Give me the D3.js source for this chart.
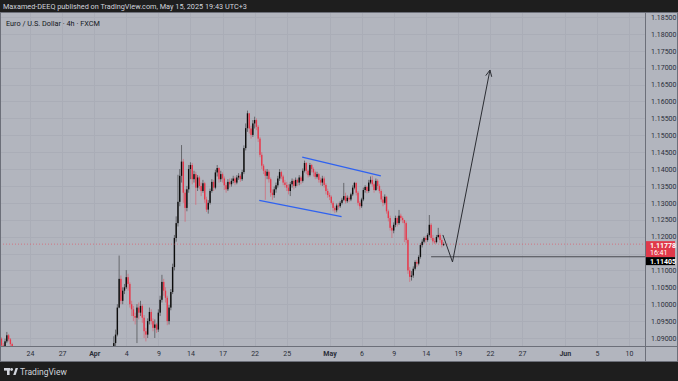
<!DOCTYPE html>
<html><head><meta charset="utf-8">
<script src="https://cdn.jsdelivr.net/npm/d3@7"></script>
<style>html,body{margin:0;padding:0;background:#1e1e1e;overflow:hidden}</style>
</head><body>
<svg id="c" width="678" height="381"></svg>
<script>
// ---------- DATA ----------
// trading-day index: Mar 24 = 0 (weekends skipped); 6 bars (4h) per day
const firstDay = -3;          // Mar 19
const startOpen = 1.0935;
const closes = [
// Mar 19
1.0915,1.0898,1.0878,1.0872,1.0890,1.0908,
// Mar 20
1.0896,1.0882,1.0850,1.0838,1.0842,1.0850,
// Mar 21
1.0840,1.0835,1.0822,1.0810,1.0818,1.0815,
// Mar 24
1.0825,1.0835,1.0848,1.0830,1.0810,1.0800,
// Mar 25
1.0795,1.0790,1.0805,1.0815,1.0800,1.0790,
// Mar 26
1.0785,1.0780,1.0770,1.0760,1.0750,1.0755,
// Mar 27
1.0750,1.0740,1.0760,1.0785,1.0795,1.0800,
// Mar 28
1.0810,1.0815,1.0800,1.0820,1.0830,1.0825,
// Mar 31
1.0815,1.0808,1.0820,1.0830,1.0815,1.0815,
// Apr 1
1.0810,1.0800,1.0790,1.0795,1.0790,1.0790,
// Apr 2
1.0795,1.0805,1.0820,1.0830,1.0860,1.0885,
// Apr 3
1.0910,1.0990,1.1075,1.1010,1.1040,1.1050,
// Apr 4
1.1080,1.1060,1.1000,1.0985,1.0965,1.0960,
// Apr 7
1.0990,1.0975,1.0995,1.0960,1.0920,1.0910,
// Apr 8
1.0950,1.0977,1.0950,1.0930,1.0940,1.0925,
// Apr 9
1.0975,1.1013,1.1066,1.1040,1.1019,1.0950,
// Apr 10
1.0990,1.1036,1.1110,1.1196,1.1240,1.1303,
// Apr 11
1.1380,1.1422,1.1330,1.1285,1.1340,1.1400,
// Apr 14
1.1412,1.1370,1.1385,1.1345,1.1375,1.1350,
// Apr 15
1.1335,1.1358,1.1310,1.1280,1.1300,1.1335,
// Apr 16
1.1362,1.1345,1.1390,1.1403,1.1370,1.1385,
// Apr 17
1.1372,1.1352,1.1340,1.1362,1.1355,1.1365,
// Apr 18
1.1372,1.1360,1.1375,1.1380,1.1370,1.1391,
// Apr 21
1.1462,1.1521,1.1565,1.1520,1.1501,1.1535,
// Apr 22
1.1545,1.1525,1.1490,1.1442,1.1410,1.1395,
// Apr 23
1.1380,1.1392,1.1370,1.1330,1.1323,1.1340,
// Apr 24
1.1352,1.1372,1.1391,1.1378,1.1360,1.1353,
// Apr 25
1.1345,1.1335,1.1355,1.1365,1.1350,1.1368,
// Apr 28
1.1360,1.1375,1.1365,1.1395,1.1418,1.1395,
// Apr 29
1.1382,1.1412,1.1400,1.1390,1.1377,1.1385,
// Apr 30
1.1368,1.1360,1.1372,1.1353,1.1335,1.1323,
// May 1
1.1318,1.1300,1.1285,1.1278,1.1292,1.1290,
// May 2
1.1300,1.1309,1.1320,1.1305,1.1315,1.1310,
// May 5
1.1325,1.1345,1.1359,1.1330,1.1300,1.1290,
// May 6
1.1310,1.1338,1.1347,1.1335,1.1360,1.1368,
// May 7
1.1355,1.1338,1.1365,1.1350,1.1335,1.1310,
// May 8
1.1300,1.1318,1.1275,1.1255,1.1226,1.1218,
// May 9
1.1235,1.1255,1.1240,1.1262,1.1255,1.1249,
// May 12
1.1240,1.1190,1.1100,1.1081,1.1085,1.1105,
// May 13
1.1125,1.1120,1.1140,1.1175,1.1185,1.1196,
// May 14
1.1190,1.1205,1.1235,1.1196,1.1186,1.1184,
// May 15
1.1199,1.1205,1.1190,1.1176,1.11778
];
const highs = [
1.0945,1.0920,1.0902,1.0885,1.0898,1.0918,
1.0912,1.0900,1.0886,1.0855,1.0850,1.0856,
1.0858,1.0848,1.0840,1.0828,1.0825,1.0824,
1.0830,1.0840,1.0858,1.0850,1.0835,1.0815,
1.0805,1.0800,1.0810,1.0822,1.0818,1.0805,
1.0795,1.0790,1.0785,1.0775,1.0765,1.0760,
1.0760,1.0755,1.0765,1.0790,1.0802,1.0805,
1.0815,1.0822,1.0818,1.0825,1.0840,1.0835,
1.0830,1.0820,1.0825,1.0835,1.0832,1.0820,
1.0820,1.0812,1.0805,1.0800,1.0800,1.0795,
1.0800,1.0810,1.0825,1.0840,1.0868,1.0905,
1.0925,1.1000,1.1144,1.1085,1.1050,1.1060,
1.1101,1.1090,1.1065,1.1010,1.0995,1.0975,
1.1000,1.1005,1.1010,1.1000,1.0968,1.0930,
1.0958,1.0990,1.0985,1.0958,1.0955,1.0945,
1.0985,1.1025,1.1087,1.1075,1.1050,1.1025,
1.0998,1.1045,1.1120,1.1205,1.1260,1.1383,
1.1400,1.1471,1.1430,1.1340,1.1350,1.1412,
1.1420,1.1418,1.1395,1.1392,1.1382,1.1380,
1.1360,1.1368,1.1362,1.1318,1.1308,1.1342,
1.1370,1.1368,1.1398,1.1412,1.1405,1.1395,
1.1390,1.1378,1.1360,1.1370,1.1372,1.1372,
1.1380,1.1378,1.1382,1.1388,1.1385,1.1398,
1.1470,1.1535,1.1573,1.1560,1.1528,1.1545,
1.1555,1.1550,1.1530,1.1495,1.1450,1.1415,
1.1400,1.1400,1.1398,1.1375,1.1340,1.1348,
1.1360,1.1380,1.1400,1.1395,1.1383,1.1368,
1.1362,1.1355,1.1362,1.1372,1.1370,1.1375,
1.1372,1.1382,1.1380,1.1402,1.1425,1.1420,
1.1398,1.1418,1.1415,1.1405,1.1395,1.1392,
1.1388,1.1375,1.1380,1.1378,1.1358,1.1342,
1.1330,1.1322,1.1305,1.1290,1.1298,1.1300,
1.1305,1.1315,1.1359,1.1330,1.1322,1.1320,
1.1330,1.1352,1.1362,1.1360,1.1335,1.1305,
1.1315,1.1345,1.1352,1.1350,1.1368,1.1378,
1.1380,1.1360,1.1372,1.1370,1.1355,1.1340,
1.1320,1.1325,1.1320,1.1280,1.1262,1.1232,
1.1242,1.1262,1.1260,1.1279,1.1268,1.1260,
1.1250,1.1245,1.1195,1.1110,1.1098,1.1112,
1.1130,1.1132,1.1145,1.1180,1.1192,1.1200,
1.1202,1.1210,1.1264,1.1240,1.1205,1.1195,
1.1205,1.1226,1.1210,1.1195,1.1183
];
const lows = [
1.0905,1.0890,1.0870,1.0862,1.0866,1.0885,
1.0890,1.0875,1.0840,1.0825,1.0830,1.0838,
1.0835,1.0825,1.0815,1.0800,1.0805,1.0808,
1.0810,1.0820,1.0830,1.0825,1.0805,1.0795,
1.0788,1.0782,1.0785,1.0800,1.0795,1.0785,
1.0778,1.0772,1.0765,1.0752,1.0745,1.0745,
1.0742,1.0732,1.0738,1.0755,1.0780,1.0790,
1.0795,1.0805,1.0795,1.0798,1.0815,1.0818,
1.0810,1.0800,1.0805,1.0815,1.0810,1.0810,
1.0805,1.0795,1.0785,1.0782,1.0785,1.0785,
1.0785,1.0790,1.0800,1.0815,1.0825,1.0850,
1.0875,1.0905,1.0988,1.1000,1.1000,1.1030,
1.1045,1.1040,1.0990,1.0965,1.0950,1.0940,
1.0885,1.0955,1.0965,1.0945,1.0900,1.0890,
1.0900,1.0940,1.0940,1.0920,1.0900,1.0915,
1.0918,1.0965,1.1005,1.1025,1.1005,1.0938,
1.0940,1.0982,1.1030,1.1100,1.1185,1.1230,
1.1290,1.1360,1.1300,1.1244,1.1275,1.1330,
1.1370,1.1355,1.1360,1.1294,1.1335,1.1340,
1.1320,1.1330,1.1300,1.1273,1.1268,1.1295,
1.1330,1.1335,1.1340,1.1378,1.1360,1.1362,
1.1360,1.1338,1.1330,1.1335,1.1345,1.1348,
1.1358,1.1352,1.1355,1.1368,1.1362,1.1365,
1.1385,1.1455,1.1510,1.1505,1.1490,1.1495,
1.1520,1.1515,1.1480,1.1435,1.1400,1.1385,
1.1309,1.1370,1.1360,1.1318,1.1309,1.1315,
1.1330,1.1345,1.1365,1.1370,1.1352,1.1345,
1.1335,1.1325,1.1320,1.1345,1.1340,1.1345,
1.1350,1.1352,1.1355,1.1360,1.1390,1.1385,
1.1375,1.1378,1.1390,1.1378,1.1370,1.1372,
1.1360,1.1352,1.1350,1.1345,1.1325,1.1315,
1.1308,1.1295,1.1275,1.1270,1.1272,1.1280,
1.1285,1.1295,1.1305,1.1298,1.1300,1.1302,
1.1305,1.1320,1.1340,1.1322,1.1292,1.1280,
1.1285,1.1305,1.1330,1.1328,1.1330,1.1355,
1.1348,1.1330,1.1335,1.1340,1.1328,1.1302,
1.1290,1.1295,1.1268,1.1245,1.1218,1.1196,
1.1210,1.1228,1.1230,1.1235,1.1245,1.1240,
1.1184,1.1180,1.1090,1.1066,1.1070,1.1078,
1.1100,1.1110,1.1115,1.1135,1.1168,1.1180,
1.1182,1.1185,1.1200,1.1190,1.1180,1.1178,
1.1180,1.1195,1.1182,1.1168,1.1172
];
const priceTicks = [1.090,1.095,1.100,1.105,1.110,1.115,1.120,1.125,1.130,1.135,1.140,1.145,1.150,1.155,1.160,1.165,1.170,1.175,1.180,1.185];
const tickDays   = [0,3,6,9,12,15,18,21,24,28,31,34,37,40,43,46,50,53,56];
const tickLabels = ["24","27","Apr","4","9","14","17","22","25","May","6","9","14","19","22","27","Jun","5","10"];
const monthLabels = ["Apr","May","Jun"];
const channelUpper = [[25.45,1.1435],[32.8,1.1380]];
const channelLower = [[21.43,1.1307],[29.13,1.1259]];
const projection   = [[38.6,1.1205],[39.5,1.1125],[43.0,1.1693]];
const levelLine    = {fromDay:37.5, price:1.11405};
const lastPrice = 1.11778, countdown = "16:41";
const headerText = "Maxamed-DEEQ published on TradingView.com, May 15, 2025 19:43 UTC+3";
const legendText = "Euro / U.S. Dollar · 4h · FXCM";

// ---------- CHART ----------
const W=678,H=381;
const P={l:0,r:645,t:12,b:346};
const FONT="Roboto, 'Liberation Sans', sans-serif";
const x=d3.scaleLinear().domain([0,56]).range([30,629]);
const y=d3.scaleLinear().domain([1.09,1.185]).range([338,17]);
const svg=d3.select("#c");
svg.append("rect").attr("width",W).attr("height",H).attr("fill","#1e1e1e");
svg.append("rect").attr("x",0).attr("y",12).attr("width",W).attr("height",350).attr("fill","#b2b5be");
svg.append("defs").append("clipPath").attr("id","clip").append("rect")
  .attr("x",P.l).attr("y",P.t).attr("width",P.r-P.l).attr("height",P.b-P.t);

// grid
const grid=svg.append("g").attr("clip-path","url(#clip)");
grid.selectAll("line.h").data(priceTicks).join("line")
  .attr("x1",P.l).attr("x2",P.r).attr("y1",d=>Math.round(y(d))+0.5).attr("y2",d=>Math.round(y(d))+0.5)
  .attr("stroke","#aaadb7").attr("stroke-width",1);
grid.selectAll("line.v").data(tickDays).join("line")
  .attr("y1",P.t).attr("y2",P.b).attr("x1",d=>Math.round(x(d))+0.5).attr("x2",d=>Math.round(x(d))+0.5)
  .attr("stroke","#aaadb7").attr("stroke-width",1);

// candles
const bars=closes.map((c,i)=>{
  const o=i?closes[i-1]:startOpen;
  const day=firstDay+Math.floor(i/6)+(i%6)/6;
  return {day,o,c,h:Math.max(highs[i],o,c),l:Math.min(lows[i],o,c)};
});
const cg=svg.append("g").attr("clip-path","url(#clip)");
const UP="#0c0c0c", DN="#e8374a";
cg.selectAll("line.w").data(bars).join("line")
  .attr("x1",d=>x(d.day)).attr("x2",d=>x(d.day))
  .attr("y1",d=>y(d.h)).attr("y2",d=>y(d.l))
  .attr("stroke",d=>d.c>=d.o?UP:DN).attr("stroke-opacity",0.45).attr("stroke-width",1);
cg.selectAll("rect.b").data(bars).join("rect")
  .attr("x",d=>x(d.day)-0.7).attr("width",1.4)
  .attr("y",d=>y(Math.max(d.o,d.c)))
  .attr("height",d=>Math.max(1,Math.abs(y(d.o)-y(d.c))))
  .attr("fill",d=>d.c>=d.o?UP:DN);

// current price dotted line
cg.append("line").attr("x1",P.l).attr("x2",P.r).attr("y1",y(lastPrice)).attr("y2",y(lastPrice))
  .attr("stroke","#f23645").attr("stroke-opacity",0.5).attr("stroke-dasharray","1 2");

// drawings
const dl=d3.line().x(d=>x(d[0])).y(d=>y(d[1]));
cg.append("path").attr("d",dl(channelUpper)).attr("fill","none").attr("stroke","#2f62f0").attr("stroke-width",1.3);
cg.append("path").attr("d",dl(channelLower)).attr("fill","none").attr("stroke","#2f62f0").attr("stroke-width",1.3);
cg.append("line").attr("x1",x(levelLine.fromDay)).attr("x2",P.r)
  .attr("y1",y(levelLine.price)).attr("y2",y(levelLine.price))
  .attr("stroke","#4a4c52").attr("stroke-width",1.2);
cg.append("path").attr("d",dl(projection)).attr("fill","none").attr("stroke","#2b2d33").attr("stroke-width",1);
// arrow head
{
  const a=projection[projection.length-2], b=projection[projection.length-1];
  const x1=x(a[0]),y1=y(a[1]),x2=x(b[0]),y2=y(b[1]);
  const ang=Math.atan2(y2-y1,x2-x1), L=7, s=0.45;
  const p1=[x2-L*Math.cos(ang-s),y2-L*Math.sin(ang-s)], p2=[x2-L*Math.cos(ang+s),y2-L*Math.sin(ang+s)];
  cg.append("path").attr("d",`M${p1}L${x2},${y2}L${p2}`).attr("fill","none").attr("stroke","#2b2d33").attr("stroke-width",1);
}

// price axis (labels hidden under the price-label boxes are omitted, as in the reference)
const ly=y(lastPrice);
const visibleTicks=priceTicks.filter(p=>{const py=y(p);return py<ly-5||py>ly+24;});
const ya=svg.append("g").attr("transform",`translate(${P.r},0)`)
  .call(d3.axisRight(y).tickValues(visibleTicks).tickFormat(d3.format(".5f")).tickSize(0).tickPadding(6));
ya.select(".domain").remove();
ya.selectAll("text").attr("font-family",FONT).attr("font-size",7).attr("fill","#2a2e39");

// time axis
const xa=svg.append("g").attr("transform",`translate(0,${P.b})`)
  .call(d3.axisBottom(x).tickValues(tickDays).tickFormat((d,i)=>tickLabels[i]).tickSize(0).tickPadding(5));
xa.select(".domain").remove();
xa.selectAll("text").attr("font-family",FONT).attr("font-size",7).attr("fill","#2a2e39")
  .attr("font-weight",(d,i)=>monthLabels.includes(tickLabels[i])?"bold":"normal");

// borders
const bc="#6c6f79";
svg.append("line").attr("x1",P.r+0.5).attr("x2",P.r+0.5).attr("y1",12).attr("y2",362).attr("stroke",bc);
svg.append("line").attr("x1",0).attr("x2",W).attr("y1",P.b+0.5).attr("y2",P.b+0.5).attr("stroke",bc);
svg.append("rect").attr("x",0.5).attr("y",12.5).attr("width",W-1).attr("height",349).attr("fill","none").attr("stroke",bc);

// price labels
svg.append("rect").attr("x",P.r+1).attr("y",ly-3).attr("width",29).attr("height",16).attr("fill","#e0394a");
svg.append("text").attr("x",P.r+5).attr("y",ly+3.5).text(d3.format(".5f")(lastPrice))
  .attr("font-family",FONT).attr("font-size",7).attr("font-weight","bold").attr("fill","#fff");
svg.append("text").attr("x",P.r+5).attr("y",ly+10.5).text(countdown)
  .attr("font-family",FONT).attr("font-size",7).attr("fill","#fff");
svg.append("rect").attr("x",P.r+1).attr("y",ly+13).attr("width",29).attr("height",8).attr("fill","#000");
svg.append("text").attr("x",P.r+5).attr("y",ly+19.5).text(d3.format(".5f")(levelLine.price))
  .attr("font-family",FONT).attr("font-size",7).attr("font-weight","bold").attr("fill","#fff");

// header & legend
svg.append("text").attr("x",3).attr("y",9).text(headerText)
  .attr("font-family",FONT).attr("font-size",7.3).attr("fill","#d1d4dc");
svg.append("text").attr("x",6).attr("y",26).text(legendText)
  .attr("font-family",FONT).attr("font-size",7.3).attr("fill","#131722");

// footer logo
const lg=svg.append("g").attr("fill","#d1d4dc");
lg.append("rect").attr("x",4).attr("y",368).attr("width",6).attr("height",2.6);
lg.append("rect").attr("x",7).attr("y",368).attr("width",2.6).attr("height",7);
lg.append("circle").attr("cx",11.6).attr("cy",369.5).attr("r",1.4);
lg.append("path").attr("d","M13.2,375 L15.6,368 L18,368 L15.6,375 Z");
svg.append("text").attr("x",20).attr("y",375).text("TradingView")
  .attr("font-family",FONT).attr("font-size",8.5).attr("fill","#d1d4dc");
</script>
</body></html>
